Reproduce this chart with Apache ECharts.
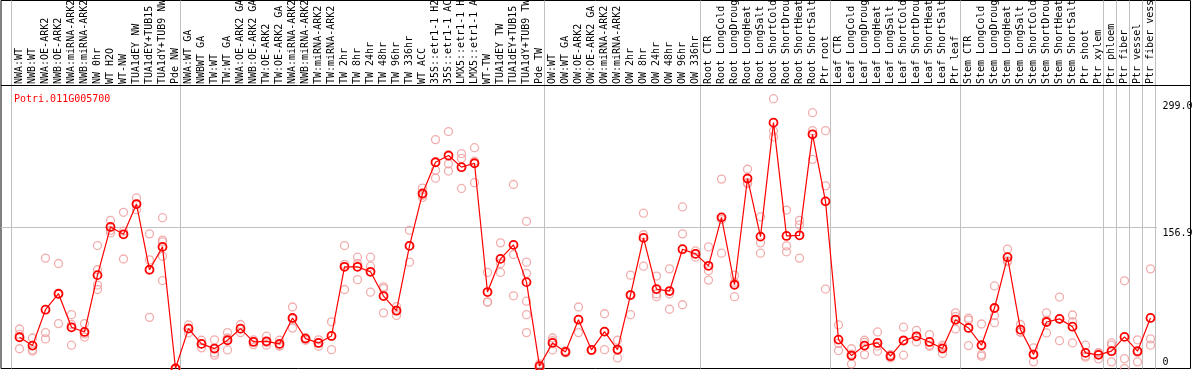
<!DOCTYPE html>
<html><head><meta charset="utf-8">
<script src="https://cdn.jsdelivr.net/npm/echarts@6/dist/echarts.min.js"></script>
<style>html,body{margin:0;padding:0;background:#fff}#c{width:1194px;height:370px}</style>
</head><body><div id="c"></div>
<script>
const chartTitle = 'Potri.011G005700';
const categories = [
  'NWA:WT','NWB:WT','NWA:OE-ARK2','NWB:OE-ARK2','NWA:miRNA-ARK2','NWB:miRNA-ARK2','NW 0hr','WT H2O','WT-NW','TUA1dEY NW','TUA1dEY+TUB15','TUA1dY+TUB9 NW','Pde NW',
  'NWA:WT GA','NWBWT GA','TW:WT','TW:WT GA','NWA:OE-ARK2 GA','NWB:OE-ARK2 GA','TW:OE-ARK2','TW:OE-ARK2 GA','NWA:miRNA-ARK2','NWB:miRNA-ARK2','TW:miRNA-ARK2','TW:miRNA-ARK2',
  'TW 2hr','TW 8hr','TW 24hr','TW 48hr','TW 96hr','TW 336hr','WT ACC','35S::etr1-1 H2O','35S::etr1-1 ACC','LMX5::etr1-1 H2O','LMX5::etr1-1 ACC','WT-TW','TUA1dEY TW','TUA1dEY+TUB15','TUA1dY+TUB9 TW','Pde TW',
  'OW:WT','OW:WT GA','OW:OE-ARK2','OW:OE-ARK2 GA','OW:miRNA-ARK2','OW:miRNA-ARK2','OW 2hr','OW 8hr','OW 24hr','OW 48hr','OW 96hr','OW 336hr',
  'Root CTR','Root LongCold','Root LongDrought','Root LongHeat','Root LongSalt','Root ShortCold','Root ShortDrought','Root ShortHeat','Root ShortSalt','Ptr root',
  'Leaf CTR','Leaf LongCold','Leaf LongDrought','Leaf LongHeat','Leaf LongSalt','Leaf ShortCold','Leaf ShortDrought','Leaf ShortHeat','Leaf ShortSalt','Ptr leaf',
  'Stem CTR','Stem LongCold','Stem LongDrought','Stem LongHeat','Stem LongSalt','Stem ShortCold','Stem ShortDrought','Stem ShortHeat','Stem ShortSalt','Ptr shoot',
  'Ptr xylem','Ptr phloem','Ptr fiber','Ptr vessel','Ptr fiber vessel'
];
const means = [
  34.8,25.5,65.5,83.3,45.9,40.7,104,157.7,149.5,183.2,110,135.5,0,
  44.4,27.4,22.2,31.5,44.4,29.6,30.3,27.4,56.3,33.3,28.5,36.3,
  113.3,113.3,107.7,80.7,64.4,136.6,195,229.8,237.3,224.3,228.7,85.2,122.1,137.7,96.2,2.6,
  28.5,18.5,54.4,20.7,41.1,21.1,81.8,145.5,88.5,86.3,132.9,127.7,
  114.4,168.4,93.3,211.7,146.9,273.9,147.7,148.4,260.9,186.2,
  32.2,14.4,25.5,28.5,13.7,31.1,35.9,29.6,22.2,54.4,
  45.2,25.9,67.4,124,43.3,15.5,51.8,55.3,46.6,17.4,
  15.2,19.3,35.2,19.3,56.3
];
const replicates = [
  [44,38,22],[34,21,19.3],[123,40,33],[117,83,50],[60,49,26],[50,38.5,35],[137,110,93,88],[165,154,151],[174,153,122],[190,183,177],[150,121,57],[168,143,141,125,98],[0,0,0],
  [48.5,45,39.6],[31.5,27.5,23],[32,17.4,14.8],[40,34,20.7],[49,44,40],[32,30,26.6],[36,29,26],[31.5,26,24.8],[68.5,55,45],[34,34,31.5],[32,28.5,24.8],[52,36,21],
  [137,116,88],[124,117,99],[124,114,85],[91,89,62],[69,65,59],[154,137,118.5],[201,193,190.6],[255,221,212],[264,228,220],[239.5,234,200.6],[246,231,207],[107,74,74],[140,117,107],[205,127,81],[164,118.5,106,75,60,40],[5,3,0],
  [34,31,20.7],[20,18,17.5],[68.5,54.7,40],[21,21,20],[61,41,21],[31.5,20,11.8],[104,82,60],[173,149,114],[103,83,80],[111,83,66],[180,150,71],[131,128,124],
  [135.5,109,98.5],[211,166,128.5],[104,96,80],[222,207,206],[169,140,128.5],[300.6,264.6,258],[176.5,136.6,130],[165,160,123],[285,265,233],[265,203.5,88.5],
  [48.5,28,20],[22,16,5],[31.5,29,15.5],[40.7,25,19.3],[15.5,13.7,11.8],[46,32,14.8],[42.5,35.6,29.6],[37.7,26,24.8],[26,24,16.7],[62,58,44],
  [56,54,25.5],[49.6,15.5,13.7],[92,59,51],[133,120,119],[49,40.7,40.3],[23,16,7.4],[62,54,39.6],[79.6,55,31],[59.6,52,28.5],[26,14,12.6],
  [17.5,17.4,10.7],[28.5,26,7.4],[97.7,11,0],[32,18,7.4],[111,33,26]
];
const groupEndIndex = [-1,12,40,52,62,72,83,84,85,86,87];
const yTickValues = [0,156.9,299.0];
const yTickLabels = ['0','156.9','299.0'];
const yGridValues = [156.9];

// ---- layout (pixels) ----
const W = 1194, H = 370;
const frameL = 1, frameR = 1190.5, frameT = 0.5, frameB = 368.5;
const headerPx = 85;
const pitch = 13, firstX = 19.5;
const yMax = 410;
const px2v = px => (px - firstX) / pitch;
const pxPerUnit = (frameB - frameT) / yMax;
const headerVal = (frameB - headerPx) / pxPerUnit;
const mono = 'DejaVu Sans Mono';

const meanData = means.map((v, i) => [i, v]);
const repData = [];
replicates.forEach((arr, i) => arr.forEach(v => repData.push([i, v])));

const markData = [];
groupEndIndex.forEach(g => markData.push({ xAxis: g + 0.35, lineStyle: { color: '#c0c0c0' } }));
yGridValues.forEach(v => markData.push([
  { coord: [px2v(frameL), v], lineStyle: { color: '#c0c0c0' } },
  { coord: [categories.length - 0.5, v] }
]));
markData.push({ yAxis: headerVal, lineStyle: { color: '#000000' } });

const tickMarkData = yTickValues.map((v, k) => [
  { coord: [px2v(1162.5), v], name: yTickLabels[k],
    label: { position: v === 0 ? 'insideStartTop' : 'insideStartBottom' } },
  { coord: [px2v(frameR), v] }
]);

const chart = echarts.init(document.getElementById('c'), null, { renderer: 'canvas' });
chart.setOption({
  animation: false,
  backgroundColor: '#fff',
  title: { text: chartTitle, left: 9, top: 89,
           textStyle: { fontFamily: mono, fontSize: 10, fontWeight: 'normal', color: '#ff0000' } },
  grid: [
    { left: frameL, right: W - frameR, top: frameT, bottom: H - frameB, show: true,
      borderColor: '#000', borderWidth: 1, backgroundColor: 'transparent' },
    { left: firstX - pitch / 2, width: pitch * categories.length, top: headerPx, height: 1 }
  ],
  xAxis: [
    { type: 'value', gridIndex: 0, min: px2v(frameL), max: px2v(frameR), show: false },
    { type: 'category', gridIndex: 1, position: 'top', data: categories,
      axisLine: { show: false }, axisTick: { show: false }, splitLine: { show: false },
      axisLabel: { interval: 0, rotate: 90, margin: 2, fontFamily: mono, fontSize: 10, color: '#000' } }
  ],
  yAxis: [
    { type: 'value', gridIndex: 0, min: 0, max: yMax, show: false },
    { type: 'value', gridIndex: 1, show: false }
  ],
  series: [
    { type: 'scatter', xAxisIndex: 0, yAxisIndex: 0, data: repData, z: 2, silent: true,
      symbol: 'circle', symbolSize: 8,
      itemStyle: { color: 'rgba(0,0,0,0)', borderColor: '#ef9a9a', borderWidth: 1.3 },
      markLine: { silent: true, symbol: ['none', 'none'], z: 1, animation: false,
        label: { show: false }, lineStyle: { type: 'solid', width: 1 }, data: markData } },
    { type: 'line', xAxisIndex: 0, yAxisIndex: 0, data: meanData, z: 3, silent: true,
      symbol: 'circle', symbolSize: 8, showSymbol: true,
      lineStyle: { color: '#ff0000', width: 1.2 },
      itemStyle: { color: 'rgba(255,255,255,0)', borderColor: '#ff0000', borderWidth: 1.8 },
      markLine: { silent: true, symbol: ['none', 'none'], animation: false,
        lineStyle: { color: 'rgba(0,0,0,0)', width: 1, type: 'solid' },
        label: { show: true, formatter: '{b}', position: 'insideStartBottom', distance: [0, 1],
                 fontFamily: mono, fontSize: 10, color: '#000' },
        data: tickMarkData } }
  ]
});
</script>
</body></html>
